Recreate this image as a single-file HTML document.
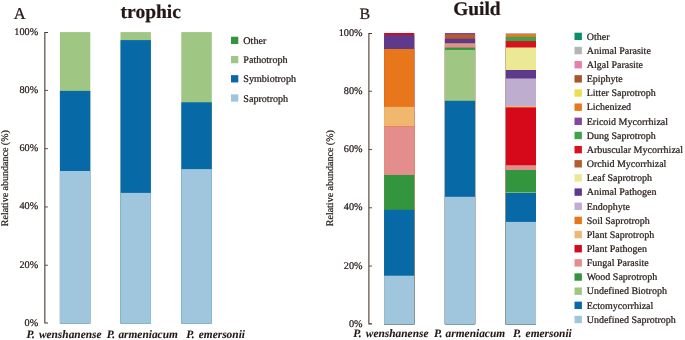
<!DOCTYPE html>
<html><head><meta charset="utf-8"><title>Figure</title>
<style>
html,body{margin:0;padding:0;background:#fff;}
body{width:685px;height:340px;overflow:hidden;}
svg{display:block;will-change:transform;text-rendering:geometricPrecision;font-family:"Liberation Serif","Times New Roman",serif;fill:#231815;}
text{stroke:#231815;stroke-width:0.22px;}
</style></head><body>
<svg width="685" height="340" viewBox="0 0 685 340">
<rect width="685" height="340" fill="#ffffff"/>
<path d="M47.95 32.55H44.85V323.05H47.95" fill="none" stroke="#45352f" stroke-width="1.08" stroke-linejoin="miter"/>
<path d="M44.85 90.38h3.1" stroke="#45352f" stroke-width="0.85"/>
<path d="M44.85 148.66h3.1" stroke="#45352f" stroke-width="0.85"/>
<path d="M44.85 206.94h3.1" stroke="#45352f" stroke-width="0.85"/>
<path d="M44.85 265.22h3.1" stroke="#45352f" stroke-width="0.85"/>
<text x="38.15" y="34.65" font-size="10.2" text-anchor="end" >100%</text>
<text x="38.15" y="92.93" font-size="10.2" text-anchor="end" >80%</text>
<text x="38.15" y="151.21" font-size="10.2" text-anchor="end" >60%</text>
<text x="38.15" y="209.49" font-size="10.2" text-anchor="end" >40%</text>
<text x="38.15" y="267.77" font-size="10.2" text-anchor="end" >20%</text>
<text x="38.15" y="326.05" font-size="10.2" text-anchor="end" >0%</text>
<rect x="59.90" y="32.10" width="30.40" height="291.40" fill="#9fc682"/>
<rect x="59.90" y="90.90" width="30.40" height="232.60" fill="#076aa6"/>
<rect x="59.90" y="171.00" width="30.40" height="152.50" fill="#9fc6dc"/>
<rect x="120.50" y="32.10" width="30.40" height="291.40" fill="#9fc682"/>
<rect x="120.50" y="40.10" width="30.40" height="283.40" fill="#076aa6"/>
<rect x="120.50" y="192.90" width="30.40" height="130.60" fill="#9fc6dc"/>
<rect x="181.30" y="32.10" width="30.50" height="291.40" fill="#9fc682"/>
<rect x="181.30" y="102.30" width="30.50" height="221.20" fill="#076aa6"/>
<rect x="181.30" y="169.10" width="30.50" height="154.40" fill="#9fc6dc"/>
<rect x="231.00" y="36.75" width="7.30" height="7.30" fill="#33953e"/>
<text x="243.30" y="43.50" font-size="10.1" text-anchor="start" >Other</text>
<rect x="231.00" y="55.95" width="7.30" height="7.30" fill="#9fc682"/>
<text x="243.30" y="62.90" font-size="10.1" text-anchor="start" >Pathotroph</text>
<rect x="231.00" y="75.15" width="7.30" height="7.30" fill="#076aa6"/>
<text x="243.30" y="82.30" font-size="10.1" text-anchor="start" >Symbiotroph</text>
<rect x="231.00" y="94.35" width="7.30" height="7.30" fill="#9fc6dc"/>
<text x="243.30" y="101.70" font-size="10.1" text-anchor="start" >Saprotroph</text>
<text x="13.80" y="19.00" font-size="16.5" text-anchor="start" >A</text>
<text x="120.60" y="18.00" font-size="19.5" text-anchor="start" font-weight="bold">trophic</text>
<text transform="translate(8.3,178.2) rotate(-90)" font-size="10" text-anchor="middle">Relative abundance (%)</text>
<text x="26.40" y="338.20" font-size="11.4" text-anchor="start" font-weight="bold" font-style="italic" style="stroke-width:0.08px">P.<tspan dx="1.3"> wenshanense</tspan></text>
<text x="106.70" y="338.20" font-size="11.4" text-anchor="start" font-weight="bold" font-style="italic" style="stroke-width:0.08px">P.<tspan dx="0.5"> armeniacum</tspan></text>
<text x="186.30" y="338.20" font-size="11.4" text-anchor="start" font-weight="bold" font-style="italic" style="stroke-width:0.08px">P.<tspan dx="1.3"> emersonii</tspan></text>
<path d="M372.00 33.45H368.90V323.85H372.00" fill="none" stroke="#45352f" stroke-width="1.08" stroke-linejoin="miter"/>
<path d="M368.90 91.26h3.1" stroke="#45352f" stroke-width="0.85"/>
<path d="M368.90 149.52h3.1" stroke="#45352f" stroke-width="0.85"/>
<path d="M368.90 207.78h3.1" stroke="#45352f" stroke-width="0.85"/>
<path d="M368.90 266.04h3.1" stroke="#45352f" stroke-width="0.85"/>
<text x="362.50" y="35.55" font-size="10.2" text-anchor="end" >100%</text>
<text x="362.50" y="93.81" font-size="10.2" text-anchor="end" >80%</text>
<text x="362.50" y="152.07" font-size="10.2" text-anchor="end" >60%</text>
<text x="362.50" y="210.33" font-size="10.2" text-anchor="end" >40%</text>
<text x="362.50" y="268.59" font-size="10.2" text-anchor="end" >20%</text>
<text x="362.50" y="326.85" font-size="10.2" text-anchor="end" >0%</text>
<rect x="384.10" y="33.00" width="30.20" height="291.30" fill="#d6091b"/>
<rect x="384.10" y="35.00" width="30.20" height="289.30" fill="#5f3a8c"/>
<rect x="384.10" y="49.00" width="30.20" height="275.30" fill="#e8761a"/>
<rect x="384.10" y="106.90" width="30.20" height="217.40" fill="#f0b86e"/>
<rect x="384.10" y="126.05" width="30.20" height="198.25" fill="#e8761a"/>
<rect x="384.10" y="126.40" width="30.20" height="197.90" fill="#e38d8c"/>
<rect x="384.10" y="175.00" width="30.20" height="149.30" fill="#33953e"/>
<rect x="384.10" y="209.80" width="30.20" height="114.50" fill="#076aa6"/>
<rect x="384.10" y="275.70" width="30.20" height="48.60" fill="#9fc6dc"/>
<rect x="444.90" y="33.00" width="30.20" height="291.30" fill="#86469a"/>
<rect x="444.90" y="34.60" width="30.20" height="289.70" fill="#b35c2c"/>
<rect x="444.90" y="38.70" width="30.20" height="285.60" fill="#5f3a8c"/>
<rect x="444.90" y="43.40" width="30.20" height="280.90" fill="#f0b86e"/>
<rect x="444.90" y="44.20" width="30.20" height="280.10" fill="#e38d8c"/>
<rect x="444.90" y="47.60" width="30.20" height="276.70" fill="#33953e"/>
<rect x="444.90" y="49.90" width="30.20" height="274.40" fill="#9fc682"/>
<rect x="444.90" y="100.80" width="30.20" height="223.50" fill="#076aa6"/>
<rect x="444.90" y="196.80" width="30.20" height="127.50" fill="#9fc6dc"/>
<rect x="505.80" y="33.00" width="30.20" height="291.30" fill="#b5b5b6"/>
<rect x="505.80" y="34.10" width="30.20" height="290.20" fill="#e8781e"/>
<rect x="505.80" y="36.90" width="30.20" height="287.40" fill="#3fa34d"/>
<rect x="505.80" y="41.10" width="30.20" height="283.20" fill="#d7121e"/>
<rect x="505.80" y="47.50" width="30.20" height="276.80" fill="#ece994"/>
<rect x="505.80" y="70.00" width="30.20" height="254.30" fill="#5f3a8c"/>
<rect x="505.80" y="78.50" width="30.20" height="245.80" fill="#bfadcf"/>
<rect x="505.80" y="106.10" width="30.20" height="218.20" fill="#f0b86e"/>
<rect x="505.80" y="107.40" width="30.20" height="216.90" fill="#d6091b"/>
<rect x="505.80" y="165.20" width="30.20" height="159.10" fill="#e38d8c"/>
<rect x="505.80" y="170.00" width="30.20" height="154.30" fill="#33953e"/>
<rect x="505.80" y="192.30" width="30.20" height="132.00" fill="#9fc682"/>
<rect x="505.80" y="193.00" width="30.20" height="131.30" fill="#076aa6"/>
<rect x="505.80" y="221.90" width="30.20" height="102.40" fill="#9fc6dc"/>
<rect x="574.50" y="32.70" width="7.40" height="7.40" fill="#0b8e6b"/>
<text x="586.70" y="39.70" font-size="10" text-anchor="start" >Other</text>
<rect x="574.50" y="46.85" width="7.40" height="7.40" fill="#b5b5b6"/>
<text x="586.70" y="53.85" font-size="10" text-anchor="start" >Animal Parasite</text>
<rect x="574.50" y="61.01" width="7.40" height="7.40" fill="#e87fab"/>
<text x="586.70" y="68.01" font-size="10" text-anchor="start" >Algal Parasite</text>
<rect x="574.50" y="75.16" width="7.40" height="7.40" fill="#a9562a"/>
<text x="586.70" y="82.16" font-size="10" text-anchor="start" >Epiphyte</text>
<rect x="574.50" y="89.32" width="7.40" height="7.40" fill="#e8e04e"/>
<text x="586.70" y="96.32" font-size="10" text-anchor="start" >Litter Saprotroph</text>
<rect x="574.50" y="103.47" width="7.40" height="7.40" fill="#e8781e"/>
<text x="586.70" y="110.47" font-size="10" text-anchor="start" >Lichenized</text>
<rect x="574.50" y="117.63" width="7.40" height="7.40" fill="#86469a"/>
<text x="586.70" y="124.63" font-size="10" text-anchor="start" >Ericoid Mycorrhizal</text>
<rect x="574.50" y="131.78" width="7.40" height="7.40" fill="#3fa34d"/>
<text x="586.70" y="138.78" font-size="10" text-anchor="start" >Dung Saprotroph</text>
<rect x="574.50" y="145.94" width="7.40" height="7.40" fill="#d7121e"/>
<text x="586.70" y="152.94" font-size="10" text-anchor="start" >Arbuscular Mycorrhizal</text>
<rect x="574.50" y="160.09" width="7.40" height="7.40" fill="#b35c2c"/>
<text x="586.70" y="167.09" font-size="10" text-anchor="start" >Orchid Mycorrhizal</text>
<rect x="574.50" y="174.25" width="7.40" height="7.40" fill="#ece994"/>
<text x="586.70" y="181.25" font-size="10" text-anchor="start" >Leaf Saprotroph</text>
<rect x="574.50" y="188.41" width="7.40" height="7.40" fill="#5f3a8c"/>
<text x="586.70" y="195.41" font-size="10" text-anchor="start" >Animal Pathogen</text>
<rect x="574.50" y="202.56" width="7.40" height="7.40" fill="#bfadcf"/>
<text x="586.70" y="209.56" font-size="10" text-anchor="start" >Endophyte</text>
<rect x="574.50" y="216.72" width="7.40" height="7.40" fill="#e8761a"/>
<text x="586.70" y="223.72" font-size="10" text-anchor="start" >Soil Saprotroph</text>
<rect x="574.50" y="230.87" width="7.40" height="7.40" fill="#f0b86e"/>
<text x="586.70" y="237.87" font-size="10" text-anchor="start" >Plant Saprotroph</text>
<rect x="574.50" y="245.03" width="7.40" height="7.40" fill="#d6091b"/>
<text x="586.70" y="252.03" font-size="10" text-anchor="start" >Plant Pathogen</text>
<rect x="574.50" y="259.18" width="7.40" height="7.40" fill="#e38d8c"/>
<text x="586.70" y="266.18" font-size="10" text-anchor="start" >Fungal Parasite</text>
<rect x="574.50" y="273.33" width="7.40" height="7.40" fill="#33953e"/>
<text x="586.70" y="280.33" font-size="10" text-anchor="start" >Wood Saprotroph</text>
<rect x="574.50" y="287.49" width="7.40" height="7.40" fill="#9fc682"/>
<text x="586.70" y="294.49" font-size="10" text-anchor="start" >Undefined Biotroph</text>
<rect x="574.50" y="301.64" width="7.40" height="7.40" fill="#076aa6"/>
<text x="586.70" y="308.64" font-size="10" text-anchor="start" >Ectomycorrhizal</text>
<rect x="574.50" y="315.80" width="7.40" height="7.40" fill="#9fc6dc"/>
<text x="586.70" y="322.80" font-size="10" text-anchor="start" >Undefined Saprotroph</text>
<text x="359.40" y="18.50" font-size="16" text-anchor="start" >B</text>
<text x="453.20" y="15.40" font-size="19.4" text-anchor="start" font-weight="bold">Guild</text>
<text transform="translate(332.8,178.2) rotate(-90)" font-size="10" text-anchor="middle">Relative abundance (%)</text>
<text x="353.30" y="337.30" font-size="11.4" text-anchor="start" font-weight="bold" font-style="italic" style="stroke-width:0.08px">P.<tspan dx="1.3"> wenshanense</tspan></text>
<text x="434.00" y="337.30" font-size="11.4" text-anchor="start" font-weight="bold" font-style="italic" style="stroke-width:0.08px">P.<tspan dx="0.4"> armeniacum</tspan></text>
<text x="513.10" y="337.30" font-size="11.4" text-anchor="start" font-weight="bold" font-style="italic" style="stroke-width:0.08px">P.<tspan dx="1.3"> emersonii</tspan></text>
</svg>
</body></html>
